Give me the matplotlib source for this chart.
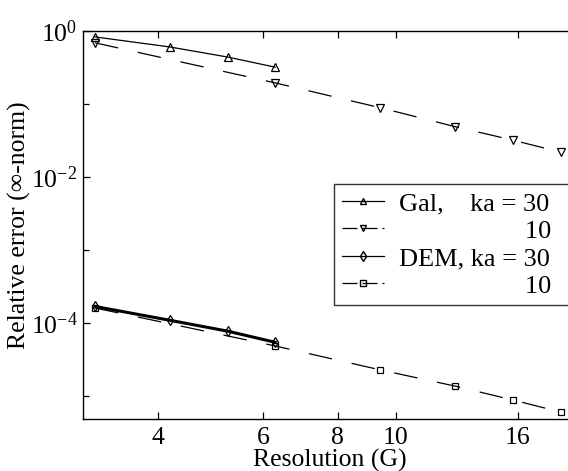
import matplotlib
matplotlib.use("Agg")
import matplotlib.pyplot as plt
from matplotlib.lines import Line2D
from matplotlib.ticker import FixedLocator, NullLocator, NullFormatter, FixedFormatter
import numpy as np

plt.rcParams['font.family'] = ['Liberation Serif', 'DejaVu Serif']
plt.rcParams['mathtext.fontset'] = 'stix'

pi = np.pi
# resolution (points per wavelength)
gal30_x = [pi, 4*pi/3, 5*pi/3, 2*pi]
gal30_y = [0.83, 0.605, 0.44, 0.32]
gal10_x = [pi, 2*pi, 3*pi, 4*pi, 5*pi, 6*pi]
gal10_y = [0.69, 0.195, 0.089, 0.049, 0.032, 0.022]
dem30_x = [pi, 4*pi/3, 5*pi/3, 2*pi]
dem30_y = [1.7e-4, 1.1e-4, 7.8e-5, 5.5e-5]
dem10_x = [pi, 2*pi, 3*pi, 4*pi, 5*pi, 6*pi]
dem10_y = [1.62e-4, 4.9e-5, 2.3e-5, 1.38e-5, 8.9e-6, 6.1e-6]

xticks = [4, 6, 8, 10, 16]
xticklabels = ['4', '6', '8', '10', '16']
labels = ['Gal,    ka = 30  ', ' ' * 19 + '10  ', 'DEM, ka = 30  ', ' ' * 19 + '10  ']

fig = plt.figure(figsize=(5.68, 4.71), dpi=100)
ax = fig.add_axes([83/568, 1 - 419/471, 493/568, 388/471])

dash = (0, (19, 16))
ax.plot(gal30_x, gal30_y, '-', color='k', lw=0.9, marker='^', ms=6, mfc='none', mew=0.9)
ax.plot(gal10_x, gal10_y, color='k', lw=0.9, ls=dash, marker='v', ms=6, mfc='none', mew=0.9)
ax.plot(dem30_x, dem30_y, '-', color='k', lw=2.2, marker='d', ms=5, mfc='none', mew=0.9)
ax.plot(dem10_x, dem10_y, color='k', lw=0.9, ls=dash, marker='s', ms=4, mfc='none', mew=0.9)

ax.set_xscale('log')
ax.set_yscale('log')
ax.set_xlim(3, 20)
ax.set_ylim(4.9e-6, 1.0)

ax.xaxis.set_major_locator(FixedLocator(xticks))
ax.xaxis.set_major_formatter(FixedFormatter(xticklabels))
ax.xaxis.set_minor_locator(NullLocator())
ax.yaxis.set_major_locator(FixedLocator([1e0, 1e-2, 1e-4]))
ax.yaxis.set_minor_locator(FixedLocator([1e-1, 1e-3, 1e-5]))
ax.yaxis.set_minor_formatter(NullFormatter())

ax.tick_params(which='both', direction='in', top=True, right=False, labelsize=18.5)
ax.tick_params(which='major', length=5, width=0.9)
ax.tick_params(which='minor', length=4, width=0.9)
ax.tick_params(axis='x', pad=6)
ax.tick_params(axis='y', pad=4)
ax.spines['right'].set_visible(False)
for s in ['left', 'bottom', 'top']:
    ax.spines[s].set_linewidth(1.0)

ax.set_xlabel('Resolution (G)', fontsize=18.5, labelpad=0)
ax.set_ylabel('Relative error (∞-norm)', fontsize=18.5, labelpad=0)

hdash = (0, (12, 4))
handles = [
    Line2D([], [], color='k', lw=0.9, marker='^', ms=5, mfc='none'),
    Line2D([], [], color='k', lw=0.9, ls=hdash, marker='v', ms=5, mfc='none'),
    Line2D([], [], color='k', lw=0.9, marker='d', ms=5, mfc='none'),
    Line2D([], [], color='k', lw=0.9, ls=hdash, marker='s', ms=4, mfc='none'),
]
leg = ax.legend(handles, labels, loc='upper left', bbox_to_anchor=(0.509, 0.606),
                fontsize=19, frameon=True, fancybox=False, edgecolor='k',
                handlelength=1.6, handletextpad=0.55, labelspacing=0.15,
                borderpad=0.3, borderaxespad=0)
leg.get_frame().set_linewidth(1.0)

fig.savefig('out.png', dpi=100)
